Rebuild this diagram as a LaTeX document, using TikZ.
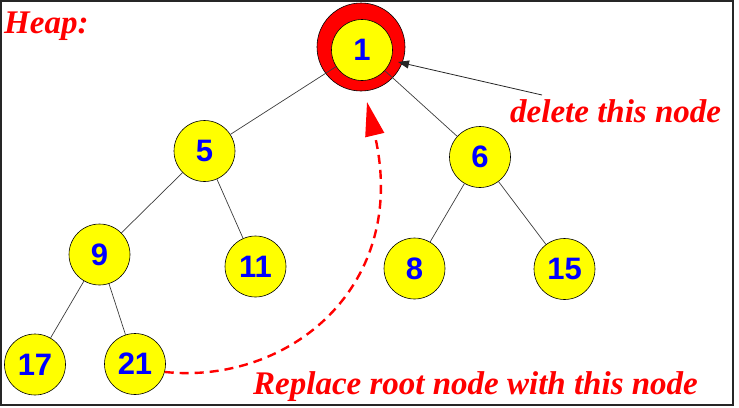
\documentclass[tikz,border=0pt]{standalone}
\usepackage{fontspec}
\setmainfont{Liberation Serif}
\newfontfamily\numfont{Liberation Sans}
\usetikzlibrary{arrows.meta}
\definecolor{hred}{RGB}{255,0,0}
\definecolor{hyellow}{RGB}{255,255,0}
\definecolor{hblue}{RGB}{0,0,255}
\definecolor{edgegray}{RGB}{60,60,60}
\begin{document}
\begin{tikzpicture}[x=1pt,y=-1pt,
  hnode/.style={circle,draw=black,line width=0.6pt,fill=hyellow,minimum size=61pt,inner sep=0pt,
    font=\numfont\bfseries\fontsize{31}{31}\selectfont,text=hblue},
  ringnode/.style={circle,draw=black,line width=0.6pt,fill=hred,minimum size=88pt,inner sep=0pt},
  edge/.style={draw=edgegray,line width=0.7pt},
  lbl/.style={anchor=base west,inner sep=0pt,text=hred,font=\bfseries\itshape\fontsize{33}{33}\selectfont}]
\useasboundingbox (0,0) rectangle (739,407);
\draw[line width=1.5pt,color=black!85] (1,1) rectangle (733,405);
\node[ringnode] (ring) at (361,47) {};
\node[hnode] (n1) at (362,50) {1};
\node[hnode] (n5) at (204.5,151) {5};
\node[hnode] (n6) at (480,157) {6};
\node[hnode] (n9) at (99.5,254.5) {9};
\node[hnode] (n11) at (255.5,266.5) {11};
\node[hnode] (n8) at (414.5,268.5) {8};
\node[hnode] (n15) at (564.5,269) {15};
\node[hnode] (n17) at (35,364.5) {17};
\node[hnode] (n21) at (135,364) {21};
\draw[edge] (n1) -- (n5);
\draw[edge] (n1) -- (n6);
\draw[edge] (n5) -- (n9);
\draw[edge] (n5) -- (n11);
\draw[edge] (n6) -- (n8);
\draw[edge] (n6) -- (n15);
\draw[edge] (n9) -- (n17);
\draw[edge] (n9) -- (n21);
\node[lbl] (heap) at (4,33) {Heap:};
\node[lbl] (del) at (510,122) {delete this node};
\node[lbl] (rep) at (253,394) {Replace root node with this node};
\coordinate (delstart) at (542,95);
\coordinate (deltip) at (398,62);
\draw[line width=0.8pt,color=black!85,-{Triangle[length=11pt,width=8pt]}] (delstart) -- (deltip);
\coordinate (reptip) at (367,102);
\draw[hred,line width=2.4pt,dash pattern=on 9pt off 6pt,-{Triangle[length=34pt,width=19pt]}]
  (n21.-15) .. controls (290,385) and (410,285) .. (reptip);
\end{tikzpicture}
\end{document}
